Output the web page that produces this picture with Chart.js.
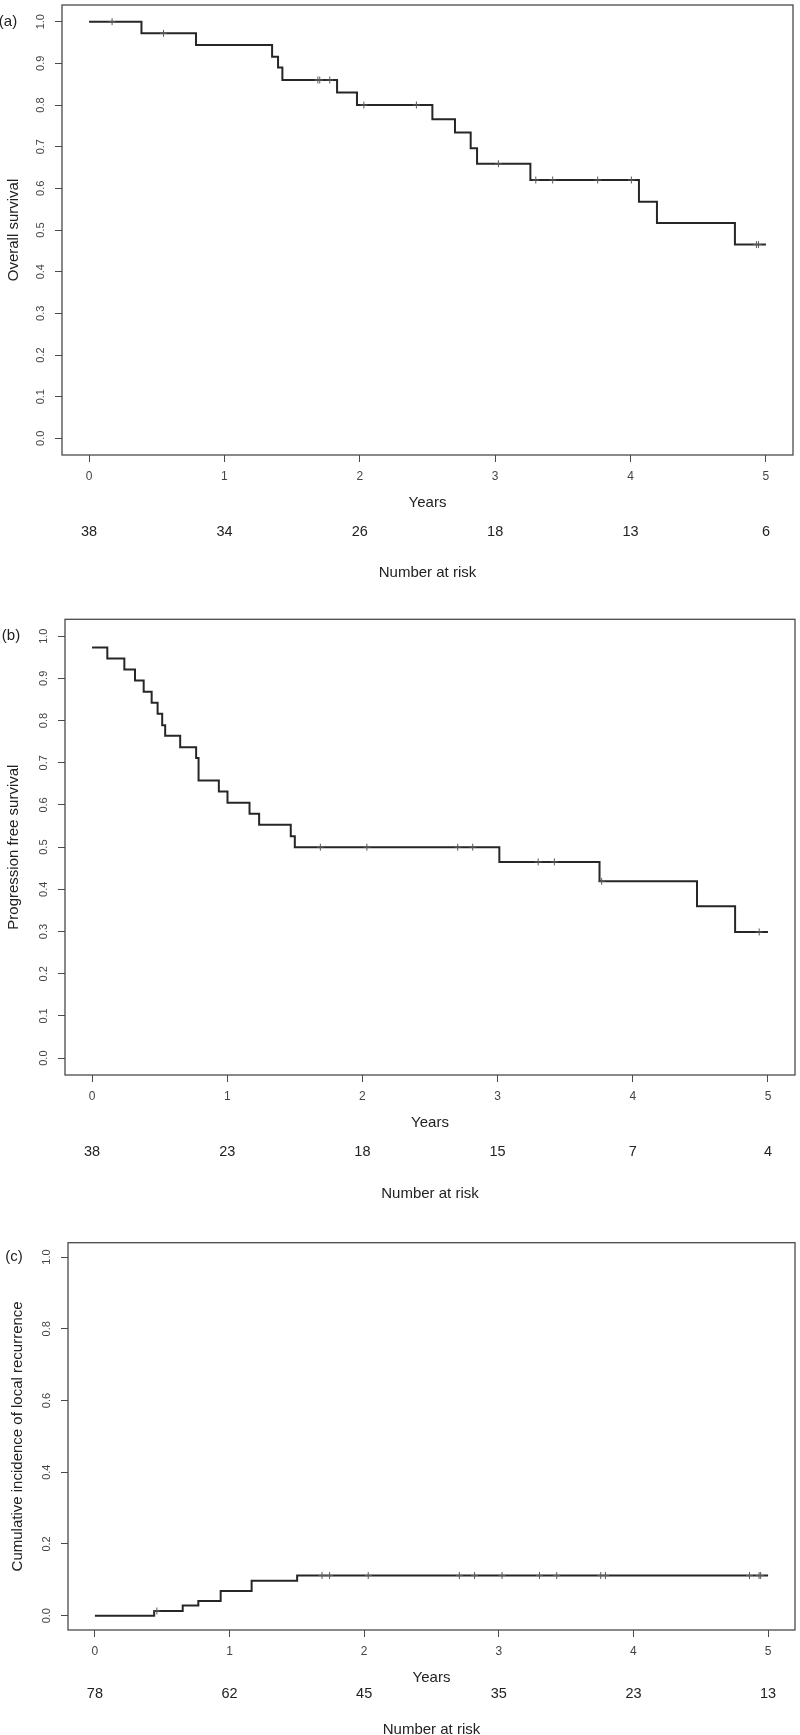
<!DOCTYPE html>
<html>
<head>
<meta charset="utf-8">
<script src="https://cdn.jsdelivr.net/npm/chart.js@4.4.1/dist/chart.umd.min.js"></script>
<style>
html, body { margin: 0; padding: 0; background: #fff; }
body { width: 800px; height: 1735px; position: relative; overflow: hidden; }
canvas { position: absolute; left: 0; }
</style>
</head>
<body>
<canvas id="chartA" width="800" height="600" style="top:0px;width:800px;height:600px"></canvas>
<canvas id="chartB" width="800" height="620" style="top:600px;width:800px;height:620px"></canvas>
<canvas id="chartC" width="800" height="515" style="top:1220px;width:800px;height:515px"></canvas>
<script>
// ---------- tick labels ----------
const xTicks = [0, 1, 2, 3, 4, 5];
const yTicksSurvival = [0, 0.1, 0.2, 0.3, 0.4, 0.5, 0.6, 0.7, 0.8, 0.9, 1.0];
const yTicksIncidence = [0, 0.2, 0.4, 0.6, 0.8, 1.0];

// ---------- (a) overall survival ----------
const osTimes  = [0, 0.387, 0.79, 1.352, 1.396, 1.428, 1.832, 1.979, 2.536, 2.703, 2.819, 2.866, 3.26, 4.062, 4.195, 4.771, 5.0];
const osValues = [1.0, 0.972, 0.944, 0.916, 0.890, 0.860, 0.830, 0.800, 0.766, 0.734, 0.696, 0.659, 0.620, 0.568, 0.517, 0.465, 0.465];
const osCensorTimes  = [0.17, 0.55, 1.69, 1.704, 1.778, 2.03, 2.418, 3.024, 3.30, 3.425, 3.757, 4.006, 4.93, 4.945];
const osCensorValues = [1.0, 0.972, 0.860, 0.860, 0.860, 0.800, 0.800, 0.659, 0.620, 0.620, 0.620, 0.620, 0.465, 0.465];
const osAtRisk = [38, 34, 26, 18, 13, 6];

// ---------- (b) progression free survival ----------
const pfsTimes  = [0, 0.113, 0.239, 0.318, 0.382, 0.441, 0.485, 0.519, 0.541, 0.652, 0.77, 0.788, 0.938, 1.002, 1.165, 1.236, 1.47, 1.5, 3.013, 3.754, 4.475, 4.757, 5.0];
const pfsValues = [0.973, 0.947, 0.921, 0.895, 0.868, 0.842, 0.816, 0.789, 0.764, 0.737, 0.711, 0.658, 0.632, 0.605, 0.579, 0.553, 0.526, 0.500, 0.465, 0.419, 0.360, 0.299, 0.299];
const pfsCensorTimes  = [1.689, 2.033, 2.705, 2.816, 3.30, 3.42, 3.77, 4.935];
const pfsCensorValues = [0.500, 0.500, 0.500, 0.500, 0.465, 0.465, 0.419, 0.299];
const pfsAtRisk = [38, 23, 18, 15, 7, 4];

// ---------- (c) cumulative incidence of local recurrence ----------
const cifTimes  = [0, 0.44, 0.652, 0.768, 0.934, 1.164, 1.502, 5.0];
const cifValues = [0, 0.013, 0.028, 0.041, 0.069, 0.097, 0.112, 0.112];
const cifCensorTimes  = [0.46, 1.687, 1.743, 2.03, 2.707, 2.82, 3.024, 3.302, 3.43, 3.757, 3.792, 4.862, 4.933, 4.945];
const cifCensorValues = [0.013, 0.112, 0.112, 0.112, 0.112, 0.112, 0.112, 0.112, 0.112, 0.112, 0.112, 0.112, 0.112, 0.112];
const cifAtRisk = [78, 62, 45, 35, 23, 13];

const FONT = '"Liberation Sans", Arial, Helvetica, sans-serif';
Chart.defaults.font.family = FONT;

const pairs = (xs, ys) => xs.map((t, i) => ({ x: t, y: ys[i] }));

const panelDecor = {
  id: 'panelDecor',
  afterDraw(chart, args, opts) {
    const { ctx, chartArea: a, scales: { x, y } } = chart;
    ctx.save();
    ctx.strokeStyle = '#4a4a4a';
    ctx.lineWidth = 1.3;
    ctx.strokeRect(a.left, a.top, a.right - a.left, a.bottom - a.top);
    ctx.fillStyle = '#222';
    ctx.textAlign = 'center';
    ctx.textBaseline = 'middle';
    ctx.font = '15px ' + FONT;
    ctx.fillText(opts.tag, a.left - 54, y.getPixelForValue(1));
    ctx.font = '14.5px ' + FONT;
    opts.atRisk.forEach((n, i) => {
      ctx.fillText(String(n), x.getPixelForValue(xTicks[i]), a.bottom + opts.riskDy);
    });
    ctx.font = '15px ' + FONT;
    ctx.fillText('Number at risk', (a.left + a.right) / 2, a.bottom + opts.narDy);
    ctx.restore();
  }
};

function makePanel(id, p) {
  const canvasH = p.canvasH;
  return new Chart(document.getElementById(id), {
    type: 'scatter',
    data: {
      datasets: [
        {
          label: 'censored',
          data: pairs(p.censorTimes, p.censorValues),
          showLine: false,
          pointStyle: 'cross',
          pointRadius: 3.5,
          pointBorderWidth: 1,
          pointBorderColor: '#5a5a5a',
          pointBackgroundColor: '#5a5a5a'
        },
        {
          label: 'estimate',
          data: pairs(p.times, p.values),
          showLine: true,
          stepped: true,
          borderColor: '#262626',
          borderWidth: 2,
          pointRadius: 0,
          fill: false
        }
      ]
    },
    options: {
      responsive: false,
      animation: false,
      devicePixelRatio: 1,
      events: [],
      layout: { padding: { top: p.boxTop, right: 800 - p.boxRight, left: 0, bottom: 0 } },
      plugins: {
        legend: { display: false },
        tooltip: { enabled: false },
        panelDecor: { tag: p.tag, atRisk: p.atRisk, riskDy: p.riskDy, narDy: p.narDy }
      },
      scales: {
        x: {
          type: 'linear',
          position: 'bottom',
          min: -0.2, max: 5.2,
          bounds: 'data',
          afterBuildTicks: s => { s.ticks = xTicks.map(v => ({ value: v })); },
          afterFit: s => { s.height = canvasH - p.boxBottom; s.paddingLeft = 0; s.paddingRight = 0; },
          grid: { drawOnChartArea: false, drawTicks: true, tickLength: 7, color: '#4a4a4a', lineWidth: 1 },
          border: { display: false },
          ticks: {
            autoSkip: false, maxRotation: 0, minRotation: 0,
            font: { size: 12, family: FONT }, color: '#444', padding: 7,
            callback: v => String(v)
          },
          title: {
            display: true, text: 'Years', color: '#222',
            font: { size: 15, family: FONT },
            padding: { top: 0, bottom: p.xTitlePad }
          }
        },
        y: {
          type: 'linear',
          position: 'left',
          min: -0.04, max: 1.04,
          bounds: 'data',
          afterBuildTicks: s => { s.ticks = p.yTicks.map(v => ({ value: v })); },
          afterFit: s => { s.width = p.boxLeft; s.paddingTop = 0; s.paddingBottom = 0; },
          grid: { drawOnChartArea: false, drawTicks: true, tickLength: 7, color: '#4a4a4a', lineWidth: 1 },
          border: { display: false },
          ticks: {
            autoSkip: false, minRotation: 90, maxRotation: 90, crossAlign: 'center',
            font: { size: 11, family: FONT }, color: '#444', padding: 6,
            callback: v => Number(v).toFixed(1)
          },
          title: {
            display: true, text: p.yTitle, color: '#222',
            font: { size: 15, family: FONT },
            padding: { top: p.yTitlePad, bottom: 0 }
          }
        }
      }
    },
    plugins: [panelDecor]
  });
}

makePanel('chartA', {
  canvasH: 600, boxTop: 1, boxBottom: 455, boxLeft: 62, boxRight: 793,
  times: osTimes, values: osValues, censorTimes: osCensorTimes, censorValues: osCensorValues,
  atRisk: osAtRisk, yTicks: yTicksSurvival, yTitle: 'Overall survival', tag: '(a)',
  xTitlePad: 88, yTitlePad: 5, riskDy: 76.7, narDy: 118
});
makePanel('chartB', {
  canvasH: 620, boxTop: 19.3, boxBottom: 475, boxLeft: 65, boxRight: 796,
  times: pfsTimes, values: pfsValues, censorTimes: pfsCensorTimes, censorValues: pfsCensorValues,
  atRisk: pfsAtRisk, yTicks: yTicksSurvival, yTitle: 'Progression free survival', tag: '(b)',
  xTitlePad: 88, yTitlePad: 5, riskDy: 76.7, narDy: 118.5
});
makePanel('chartC', {
  canvasH: 515, boxTop: 22.7, boxBottom: 410, boxLeft: 68, boxRight: 799,
  times: cifTimes, values: cifValues, censorTimes: cifCensorTimes, censorValues: cifCensorValues,
  atRisk: cifAtRisk, yTicks: yTicksIncidence, yTitle: 'Cumulative incidence of local recurrence', tag: '(c)',
  xTitlePad: 48, yTitlePad: 9, riskDy: 64.3, narDy: 99.5
});
</script>
</body>
</html>
